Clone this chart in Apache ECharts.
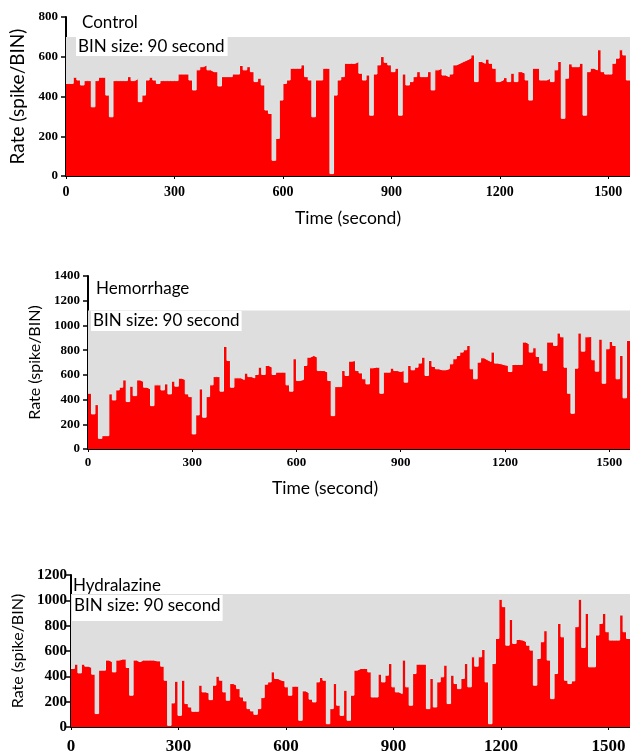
<!DOCTYPE html>
<html>
<head>
<meta charset="utf-8">
<script src="https://cdn.jsdelivr.net/npm/echarts@6/dist/echarts.min.js"></script>
<style>
    html,body{margin:0;padding:0;background:#fff;}
    #chartsbox{width:630px;height:755px;}
</style>
</head>
<body>
<div id="chartsbox"></div>
<script type="text/javascript">
// spike rate of each bin (left to right)
var controlRate = [
    466,466,497,483,458,480,480,348,480,497,
    497,407,298,480,480,480,480,500,480,490,
    374,407,483,497,483,466,480,480,480,480,
    480,513,513,513,483,433,534,550,559,534,
    525,525,453,500,500,500,513,513,556,534,
    550,525,475,492,458,332,315,79,189,382,
    466,483,542,542,542,559,500,483,298,483,
    483,542,542,12,407,483,500,567,567,567,
    576,517,483,508,306,513,559,601,572,559,
    525,542,306,513,458,475,500,525,500,500,
    525,433,534,542,508,500,513,559,567,576,
    584,593,609,475,576,567,588,567,542,475,
    483,495,475,517,475,525,517,483,382,542,
    542,483,483,492,475,534,576,290,492,564,
    550,550,567,306,525,542,534,635,525,513,
    513,567,593,635,609,483
];
var hemorrhageRate = [
    451,284,359,86,108,108,446,397,478,500,
    559,384,508,432,559,546,500,486,351,519,
    519,478,527,446,549,508,573,562,446,424,
    122,276,486,257,424,519,586,586,468,830,
    716,500,576,576,562,614,586,576,603,662,
    603,676,662,603,622,622,622,519,468,730,
    554,562,676,743,757,743,635,635,622,554,
    270,505,505,635,595,711,716,635,616,568,
    527,657,662,662,451,622,622,654,635,627,
    635,541,676,641,662,695,743,595,716,668,
    649,641,641,649,689,730,757,784,803,838,
    649,568,703,738,722,708,784,695,689,681,
    676,627,684,684,684,865,851,784,819,749,
    695,635,865,865,838,938,908,662,451,289,
    654,938,792,908,911,722,630,889,532,811,
    870,838,568,757,414,878
];
var hydralazineRate = [
    462,496,427,496,480,470,417,106,449,449,
    528,515,435,528,536,536,470,251,528,515,
    528,528,528,528,522,522,480,369,13,190,
    361,92,369,185,158,124,124,330,277,269,
    216,330,401,369,277,211,343,330,303,237,
    206,145,127,100,145,232,338,356,435,383,
    369,364,317,251,322,322,53,285,270,220,
    198,356,391,369,26,145,343,172,92,290,
    53,251,449,462,462,462,435,237,237,417,
    356,409,501,317,277,264,528,317,172,422,
    496,496,496,145,383,158,356,396,488,185,
    409,343,303,383,501,317,554,480,554,612,
    356,26,501,699,1008,950,646,849,660,691,
    686,673,646,607,330,541,673,760,528,224,
    422,818,712,369,343,364,792,1008,628,897,
    475,475,726,818,897,752,686,686,686,884,
    752,699
];
var panelNames = ['Control', 'Hemorrhage', 'Hydralazine'];
var binText = 'BIN size: 90 second';
var xTicks = [0, 300, 600, 900, 1200, 1500];
var yMax = [800, 1400, 1200];
var grayTop = [700, 1120, 1050];   // top of the grey recording band
var timeMax = 1560;

// step points: one per bin start, plus the end of the last bin
function StepData(aRate) {
    var w = timeMax / aRate.length;
    var aData = [];
    for (var i = 0; i < aRate.length; i++) {
        aData.push([i * w, aRate[i]]);
    }
    aData.push([timeMax, aRate[aRate.length - 1]]);
    return aData;
}
// plain numbers, no thousands separator
function PlainLabel(v) {
    return String(v);
}

var aRates = [controlRate, hemorrhageRate, hydralazineRate];
var grids = [
    {left: 64, top: 17, width: 566, height: 159},
    {left: 88, top: 276, width: 542, height: 173},
    {left: 71, top: 575, width: 559, height: 152}
];
var serifFont = "'Liberation Serif', 'Times New Roman', 'DejaVu Serif', serif";
var xLabelSize = [14, 13, 17];
var xLabelMargin = [9, 7, 11];
var yLabelSize = [13, 13, 15];
var yNameSize = [19, 16, 16];
var yNameGap = [39, 44, 38];
var namePos = [[82, 14], [96, 280], [73, 577]];
var boxPos = [[76, 37], [91, 311], [72, 595]];
var boxPad = [[1, 3, 1, 2], [1, 2, 2, 2], [2, 2, 7, 2]];

var txtStyle = {fontFamily: 'Lato', fontWeight: 'normal', fontSize: 17, color: '#000'};
var xAxes = [], yAxes = [], series = [], titles = [];

for (var p = 0; p < 3; p++) {
    xAxes.push({
        type: 'value',
        gridIndex: p,
        min: 0,
        max: timeMax,
        name: p < 2 ? 'Time (second)' : '',
        nameLocation: 'middle',
        nameGap: p == 0 ? 33 : 30,
        nameTextStyle: {fontFamily: 'Lato', fontSize: 17.5, color: '#000',
            padding: p == 1 ? [0, 68, 0, 0] : 0},
        axisLine: {show: true, lineStyle: {color: '#000', width: 2}},
        axisTick: {show: true, length: 3, customValues: xTicks, lineStyle: {color: '#000'}},
        axisLabel: {customValues: xTicks, formatter: PlainLabel, fontFamily: serifFont,
            fontWeight: 'bold', fontSize: xLabelSize[p], color: '#000', margin: xLabelMargin[p]},
        splitLine: {show: false}
    });
    yAxes.push({
        type: 'value',
        gridIndex: p,
        min: 0,
        max: yMax[p],
        interval: 200,
        name: 'Rate (spike/BIN)',
        nameLocation: 'middle',
        nameGap: yNameGap[p],
        nameTextStyle: {fontFamily: 'Lato', fontSize: yNameSize[p], color: '#000'},
        axisLine: {show: true, lineStyle: {color: '#000', width: 2}},
        axisTick: {show: true, length: 5, lineStyle: {color: '#000', width: 1.5}},
        axisLabel: {formatter: PlainLabel, fontFamily: serifFont, fontWeight: 'bold',
            fontSize: yLabelSize[p], color: '#000', margin: p == 2 ? 4 : 8},
        splitLine: {show: false}
    });
    series.push({
        type: 'line',
        xAxisIndex: p,
        yAxisIndex: p,
        step: 'end',
        showSymbol: false,
        data: StepData(aRates[p]),
        lineStyle: {color: '#d4eeee', width: 1},
        areaStyle: {color: '#ff0000', opacity: 1},
        markArea: {
            silent: true,
            itemStyle: {color: '#dedede'},
            data: [[{yAxis: 0}, {yAxis: grayTop[p]}]]
        }
    });
    titles.push({text: panelNames[p], left: namePos[p][0], top: namePos[p][1],
        padding: 0, textStyle: txtStyle});
    titles.push({text: binText, left: boxPos[p][0], top: boxPos[p][1],
        padding: boxPad[p], backgroundColor: '#fff', textStyle: txtStyle});
}

var myChart = echarts.init(document.getElementById('chartsbox'));
var option = {
    animation: false,
    title: titles,
    grid: grids,
    xAxis: xAxes,
    yAxis: yAxes,
    series: series
};
myChart.setOption(option);
</script>
</body>
</html>
